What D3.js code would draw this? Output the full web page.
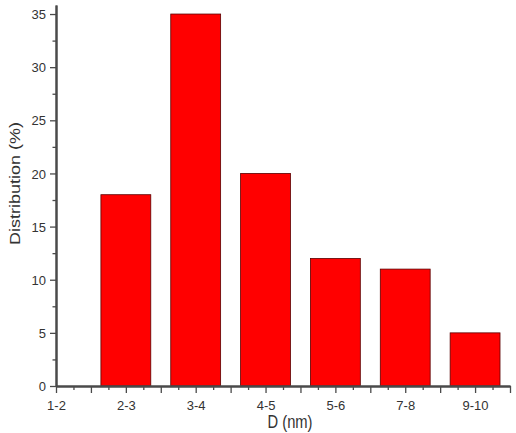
<!DOCTYPE html>
<html>
<head>
<meta charset="utf-8">
<script src="https://cdn.jsdelivr.net/npm/d3@7"></script>
<style>
  body { margin: 0; background: #fff; }
  svg { display: block; font-family: "Liberation Sans", Arial, sans-serif; }
</style>
</head>
<body>
<svg id="chart" width="516" height="433"></svg>
<script>
var categories = ["1-2", "2-3", "3-4", "4-5", "5-6", "7-8", "9-10"];
var values = [0, 18, 35, 20, 12, 11, 5];
var yTicks = [0, 5, 10, 15, 20, 25, 30, 35];

var svg = d3.select("#chart");
var axisColor = "#4a4a4a", textColor = "#333";

var x = d3.scaleLinear()
    .domain([0, categories.length - 0.5])
    .range([56, 510]);

var y = d3.scaleLinear()
    .domain([0, 35.85])
    .range([386, 5]);

var barHalf = 0.357;

var data = categories.map(function(c, i) { return {cat: c, i: i, value: values[i]}; });

// bars
svg.append("g")
  .selectAll("rect")
  .data(data.filter(function(d) { return d.value > 0; }))
  .enter().append("rect")
    .attr("x", function(d) { return x(d.i - barHalf); })
    .attr("width", function(d) { return x(d.i + barHalf) - x(d.i - barHalf); })
    .attr("y", function(d) { return y(d.value); })
    .attr("height", function(d) { return y(0) - y(d.value); })
    .attr("fill", "#ff0000")
    .attr("stroke", "#5a0000")
    .attr("stroke-width", 0.8);

// x axis: major every half category, minor at quarters
var xMajor = d3.range(0, categories.length - 0.5 + 0.01, 0.5);
var xMinor = d3.range(0.25, categories.length - 0.5, 0.5);

var gx = svg.append("g").attr("transform", "translate(0," + y(0) + ")");
gx.call(d3.axisBottom(x).tickValues(xMinor).tickSize(4).tickFormat("").tickSizeOuter(0));
gx.call(function(g) {
  g.append("g").call(d3.axisBottom(x).tickValues(xMajor).tickSize(7).tickSizeOuter(0)
    .tickFormat(function(v) { return Number.isInteger(v) ? categories[v] : ""; }));
});

// y axis
var yMinor = d3.range(2.5, 35, 5);
var gy = svg.append("g").attr("transform", "translate(" + x(0) + ",0)");
gy.call(d3.axisLeft(y).tickValues(yMinor).tickSize(3.5).tickFormat("").tickSizeOuter(0));
gy.call(function(g) {
  g.append("g").call(d3.axisLeft(y).tickValues(yTicks).tickSize(6).tickSizeOuter(0)
    .tickFormat(d3.format("d")));
});

svg.selectAll(".domain").attr("stroke", axisColor).attr("stroke-width", 2);
svg.selectAll(".tick line").attr("stroke", axisColor).attr("stroke-width", 1.3);
svg.selectAll(".tick text")
  .attr("fill", textColor)
  .attr("font-size", 13)
  .attr("font-family", "Liberation Sans, Arial, sans-serif");
gx.selectAll(".tick text").attr("dy", "1.04em");
gy.selectAll(".tick text").attr("x", -10).attr("dy", "0.36em");

// axis titles (source text is a bit narrow, so squeeze horizontally)
svg.append("text")
  .attr("transform", "translate(290,428) scale(0.82,1)")
  .attr("text-anchor", "middle")
  .attr("font-size", 18)
  .attr("fill", textColor)
  .text("D (nm)");

svg.append("text")
  .attr("transform", "translate(20,183.5) scale(0.82,1) rotate(-90)")
  .attr("text-anchor", "middle")
  .attr("font-size", 18)
  .attr("fill", textColor)
  .text("Distribution (%)");
</script>
</body>
</html>
